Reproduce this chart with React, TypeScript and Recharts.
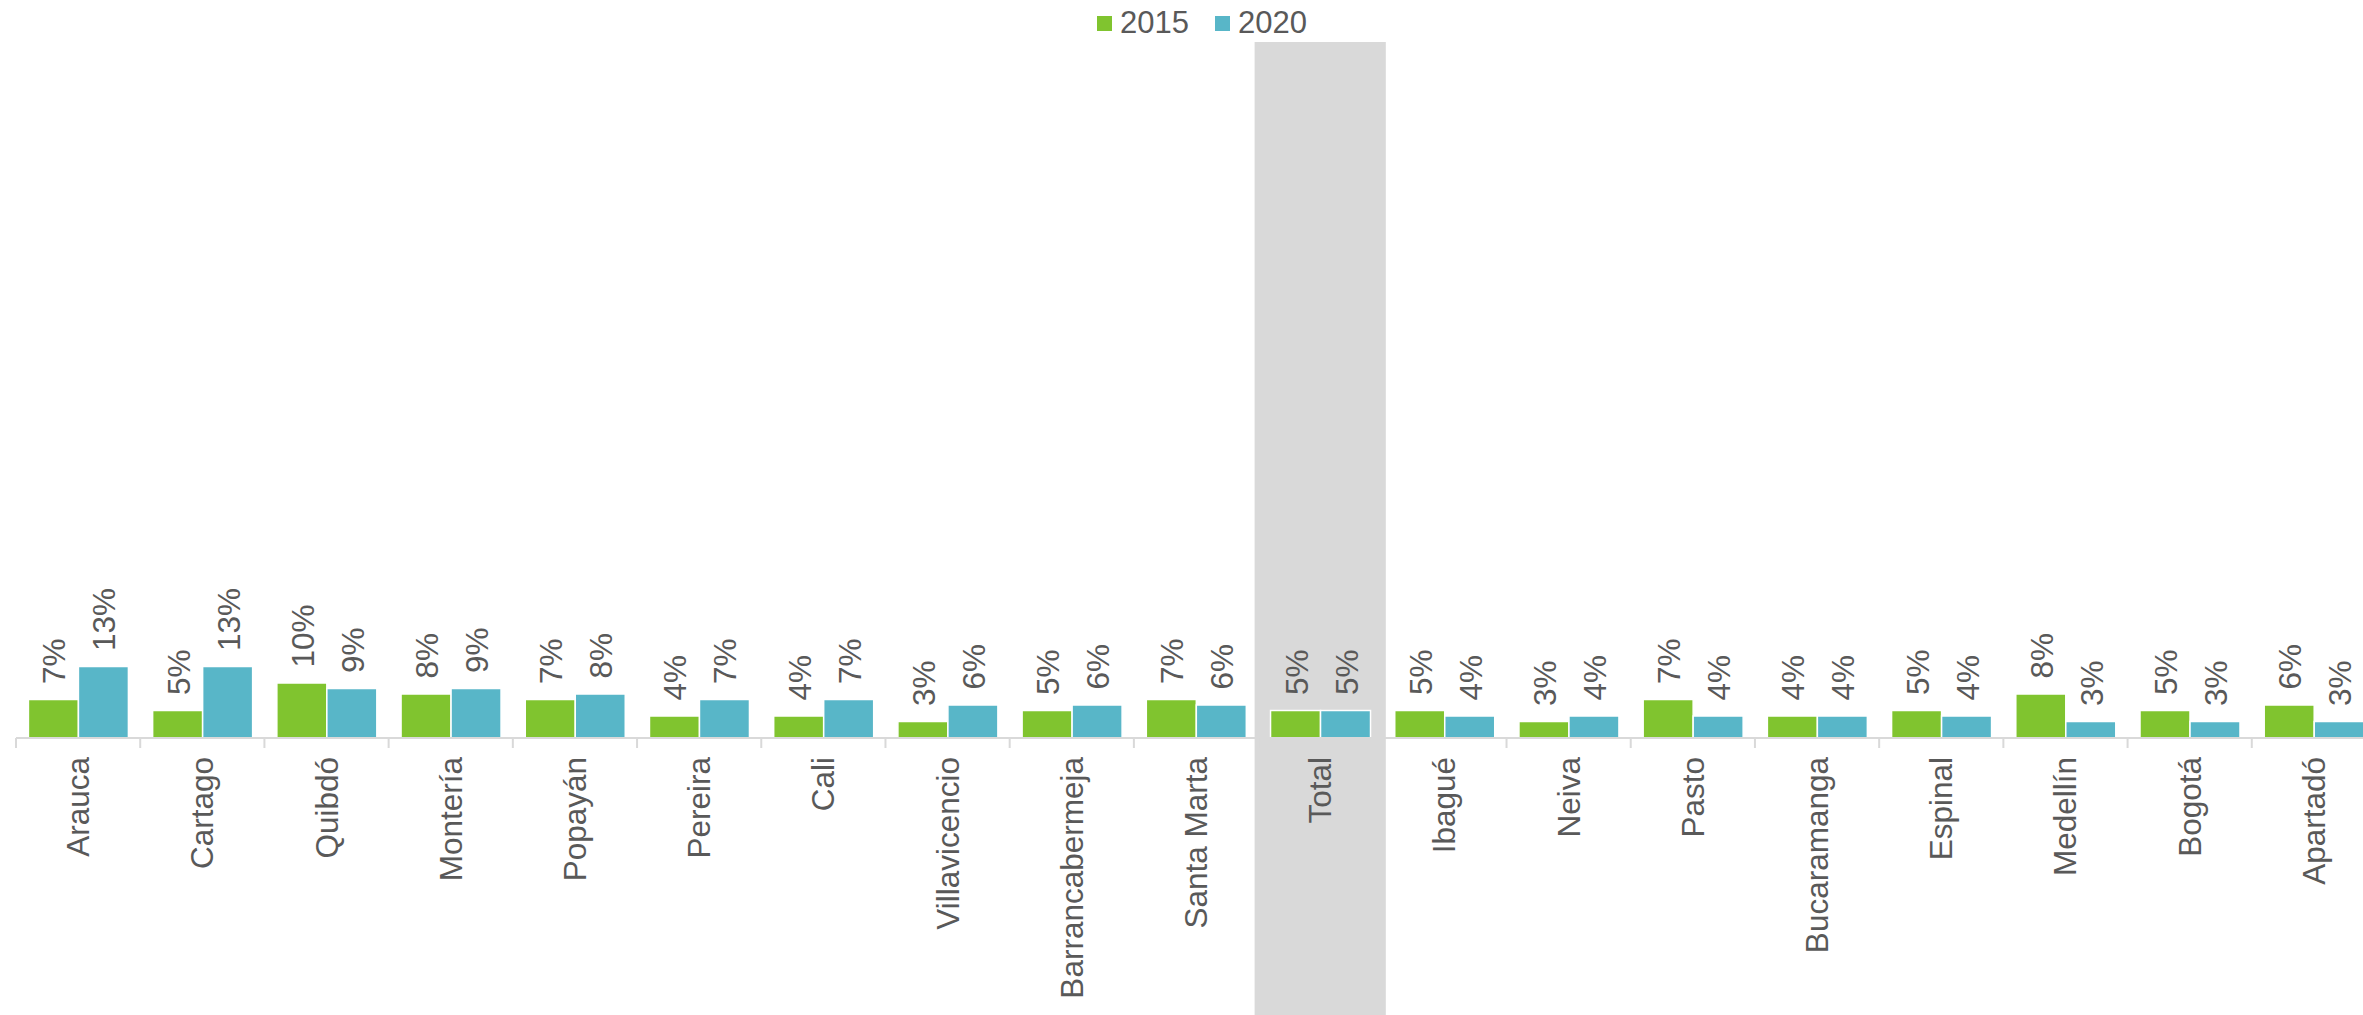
import React from 'react';
import { BarChart, Bar, XAxis, YAxis, ReferenceArea, LabelList, Legend } from 'recharts';

// ---------- data ----------
const categories: string[] = [
  'Arauca', 'Cartago', 'Quibdó', 'Montería', 'Popayán', 'Pereira', 'Cali',
  'Villavicencio', 'Barrancabermeja', 'Santa Marta', 'Total', 'Ibagué', 'Neiva',
  'Pasto', 'Bucaramanga', 'Espinal', 'Medellín', 'Bogotá', 'Apartadó',
];
const values2015: number[] = [7, 5, 10, 8, 7, 4, 4, 3, 5, 7, 5, 5, 3, 7, 4, 5, 8, 5, 6];
const values2020: number[] = [13, 13, 9, 9, 8, 7, 7, 6, 6, 6, 5, 4, 4, 4, 4, 4, 3, 3, 3];
const seriesNames: string[] = ['2015', '2020'];
const highlightCategory = 'Total';

const data = categories.map((city, i) => ({
  city,
  v2015: values2015[i],
  v2020: values2020[i],
}));

// ---------- style ----------
const FONT = '"Liberation Sans", Arial, Helvetica, sans-serif';
const TEXT = '#595959';
const GREEN = '#80C42F';
const BLUE = '#58B6C8';
const GREY = '#D9D9D9';

const CHART_W = 2404;
const CHART_H = 1015;
const MARGIN = { top: 42, right: 28, bottom: 0, left: 16 };
const X_AXIS_H = 277;
const Y_MAX = 126.5;
const PLOT_W = CHART_W - MARGIN.left - MARGIN.right;
const BAND = PLOT_W / categories.length;
const LABEL_FS = 31.5;

const renderValueLabel = (props: any) => {
  const { x, y, width, value } = props;
  const cx = Number(x) + Number(width) / 2;
  const top = Number(y);
  return (
    <text
      transform={`translate(${cx + 12}, ${top - 15.5}) rotate(-90)`}
      textAnchor="start"
      fill={TEXT}
      fontSize={LABEL_FS}
      fontFamily={FONT}
    >
      {`${value}%`}
    </text>
  );
};

const renderCategoryTick = (props: any) => {
  const { x, y, payload, index } = props;
  const half = payload && typeof payload.offset === 'number' && payload.offset > 0 ? payload.offset : BAND / 2;
  return (
    <g>
      <line x1={x - half} x2={x - half} y1={y} y2={y + 10} stroke={GREY} strokeWidth={2} />
      {index === categories.length - 1 && (
        <line x1={x + half} x2={x + half} y1={y} y2={y + 10} stroke={GREY} strokeWidth={2} />
      )}
      <text
        transform={`translate(${x + 11}, ${y + 19}) rotate(-90)`}
        textAnchor="end"
        fill={TEXT}
        fontSize={LABEL_FS}
        fontFamily={FONT}
      >
        {payload.value}
      </text>
    </g>
  );
};

const renderBand = (p: any) => (
  <rect
    x={p.x - 3.5}
    y={p.y}
    width={p.width + 7}
    height={CHART_H - p.y}
    fill={GREY}
    stroke="none"
  />
);

const renderLegend = (props: any) => {
  const payload = props.payload || [];
  return (
    <div
      style={{
        width: CHART_W,
        height: 46,
        display: 'flex',
        justifyContent: 'center',
        alignItems: 'center',
        fontFamily: FONT,
        fontSize: 31,
        color: TEXT,
      }}
    >
      {payload.map((p: any, i: number) => (
        <div
          key={i}
          style={{ display: 'flex', alignItems: 'center', marginLeft: i ? 26 : 0 }}
        >
          <span
            style={{
              display: 'inline-block',
              width: 15,
              height: 15,
              background: p.color,
              marginRight: 8,
            }}
          />
          <span>{p.value}</span>
        </div>
      ))}
    </div>
  );
};

export default function App() {
  return (
    <div
      style={{
        position: 'absolute',
        left: 0,
        top: 0,
        width: 2363,
        height: 1015,
        overflow: 'hidden',
        background: '#fff',
      }}
    >
      <BarChart
        width={CHART_W}
        height={CHART_H}
        data={data}
        margin={MARGIN}
        barCategoryGap="10%"
        barGap={0}
      >
        <ReferenceArea
          x1={highlightCategory}
          x2={highlightCategory}
          fill={GREY}
          fillOpacity={1}
          stroke="none"
          ifOverflow="visible"
          shape={renderBand}
        />
        <YAxis hide type="number" domain={[0, Y_MAX]} allowDataOverflow />
        <Bar
          dataKey="v2015"
          name={seriesNames[0]}
          fill={GREEN}
          stroke="#fff"
          strokeWidth={1.5}
          isAnimationActive={false}
        >
          <LabelList dataKey="v2015" content={renderValueLabel} />
        </Bar>
        <Bar
          dataKey="v2020"
          name={seriesNames[1]}
          fill={BLUE}
          stroke="#fff"
          strokeWidth={1.5}
          isAnimationActive={false}
        >
          <LabelList dataKey="v2020" content={renderValueLabel} />
        </Bar>
        <XAxis
          dataKey="city"
          height={X_AXIS_H}
          interval={0}
          tickSize={0}
          tickMargin={0}
          tickLine={false}
          axisLine={{ stroke: GREY, strokeWidth: 2 }}
          tick={renderCategoryTick}
        />
        <Legend
          verticalAlign="middle"
          align="center"
          layout="horizontal"
          wrapperStyle={{ top: 0, left: 0, width: CHART_W, height: 46 }}
          content={renderLegend}
        />
      </BarChart>
    </div>
  );
}
